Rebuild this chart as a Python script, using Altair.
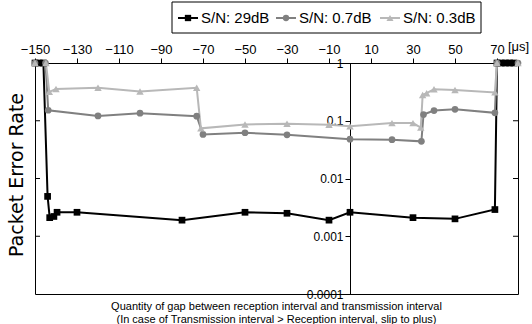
import altair as alt
import pandas as pd

series = ["S/N: 29dB", "S/N: 0.7dB", "S/N: 0.3dB"]
colors = ["#000000", "#808080", "#b8b8b8"]
shapes = ["square", "circle", "triangle-up"]

gap_29 = [-150, -148, -146, -144, -143, -141, -139.5, -130, -80, -50, -30, -10, 0, 30, 50, 69, 70, 72, 74, 76, 78]
per_29 = [1, 1, 1, 0.0049, 0.0021, 0.0022, 0.0026, 0.0026, 0.0019, 0.0026, 0.0025, 0.0019, 0.0026, 0.0021,
          0.0020, 0.0029, 1, 1, 1, 1, 1]

gap_07 = [-150, -145, -143.7, -120, -100, -73, -70, -50, -30, 0, 20, 34, 35, 40, 50, 69, 70, 80]
per_07 = [1, 1, 0.152, 0.121, 0.135, 0.12, 0.058, 0.062, 0.057, 0.048, 0.047, 0.044, 0.128, 0.15, 0.158,
          0.137, 1, 1]

gap_03 = [-150, -144.8, -143.2, -140, -120, -100, -73, -71, -50, -30, -10, 0, 20, 30, 33.7, 34.6, 36.5, 40,
          50, 69, 70, 80]
per_03 = [1, 1, 0.317, 0.354, 0.372, 0.32, 0.372, 0.074, 0.086, 0.089, 0.085, 0.080, 0.091, 0.091, 0.076,
          0.28, 0.30, 0.35, 0.34, 0.31, 1, 1]

x_ticks = [-150, -130, -110, -90, -70, -50, -30, -10, 10, 30, 50, 70]
y_ticks = [1, 0.1, 0.01, 0.001, 0.0001]
border_ticks = [0.1, 0.01, 0.001]

y_title = "Packet Error Rate"
x_title_1 = "Quantity of gap between reception interval and transmission interval"
x_title_2 = "(In case of Transmission interval > Reception interval, slip to plus)"
unit_text = "[μs]"

rows = []
for s, gs, ps in zip(series, [gap_29, gap_07, gap_03], [per_29, per_07, per_03]):
    for i, (g, p) in enumerate(zip(gs, ps)):
        rows.append({"series": s, "gap": g, "per": p, "idx": i})
df = pd.DataFrame(rows)

W, H = 483, 231
FONT = "Liberation Sans"

xenc = alt.X(
    "gap:Q",
    scale=alt.Scale(domain=[-150, 80], nice=False, zero=False),
    axis=alt.Axis(orient="top", values=x_ticks, format="d", tickSize=5, labelFontSize=13,
                  labelPadding=2, title=None, grid=False, domainColor="black", tickColor="black",
                  labelColor="black", labelFont=FONT, labelOverlap=False, labelFlush=False),
)
yenc = alt.Y(
    "per:Q",
    scale=alt.Scale(type="log", domain=[0.0001, 1], nice=False),
    axis=alt.Axis(orient="left", offset=-315, values=y_ticks, format="~g", tickSize=5, labelFontSize=12,
                  labelPadding=2, title=None, grid=False, domainColor="black", tickColor="black",
                  labelColor="black", labelFont=FONT, labelOverlap=False, labelFlush=False),
)

color = alt.Color("series:N", scale=alt.Scale(domain=series, range=colors), legend=None)

lines = alt.Chart(df).mark_line(strokeWidth=2).encode(
    x=xenc, y=yenc, color=color, order="idx:Q"
)

point_layers = []
for s, c, sh in zip(series, colors, shapes):
    point_layers.append(
        alt.Chart(df).transform_filter(alt.datum.series == s).mark_point(
            shape=sh, filled=True, color=c, size=45 if sh != "triangle-up" else 55, opacity=1
        ).encode(x=xenc, y=yenc)
    )

# legend (drawn as marks: box, line sample, marker, label)
LEG_Y = -45
leg_layers = [
    alt.Chart(pd.DataFrame({"k": [0]})).mark_rect(
        fill="white", stroke="black", strokeWidth=1
    ).encode(x=alt.value(137), x2=alt.value(446), y=alt.value(-61), y2=alt.value(-30))
]
leg_starts = [143, 241, 345]
for s, c, sh, x0 in zip(series, colors, shapes, leg_starts):
    one = pd.DataFrame({"t": [s]})
    leg_layers.append(alt.Chart(one).mark_rule(color=c, strokeWidth=2).encode(
        x=alt.value(x0), x2=alt.value(x0 + 20), y=alt.value(LEG_Y)))
    leg_layers.append(alt.Chart(one).mark_point(
        shape=sh, filled=True, color=c, size=40 if sh != "triangle-up" else 50, opacity=1
    ).encode(x=alt.value(x0 + 10), y=alt.value(LEG_Y)))
    leg_layers.append(alt.Chart(one).mark_text(
        fontSize=15, font=FONT, color="black", align="left", baseline="middle"
    ).encode(text="t:N", x=alt.value(x0 + 23), y=alt.value(LEG_Y)))

tick_df = pd.DataFrame({"per": border_ticks})
left_ticks = alt.Chart(tick_df).mark_rule(color="black", strokeWidth=1).encode(
    y=yenc, x=alt.value(0), x2=alt.value(5)
)
right_ticks = alt.Chart(tick_df).mark_rule(color="black", strokeWidth=1).encode(
    y=yenc, x=alt.value(W - 5), x2=alt.value(W)
)

ytitle = alt.Chart(pd.DataFrame({"t": [y_title]})).mark_text(
    angle=270, fontSize=19, font="DejaVu Sans", color="black", align="center", baseline="middle"
).encode(text="t:N", x=alt.value(-18), y=alt.value(112))

xt1 = alt.Chart(pd.DataFrame({"t": [x_title_1]})).mark_text(
    fontSize=11, font=FONT, color="black", align="center", baseline="middle"
).encode(text="t:N", x=alt.value(241.5), y=alt.value(244))
xt2 = alt.Chart(pd.DataFrame({"t": [x_title_2]})).mark_text(
    fontSize=11, font=FONT, color="black", align="center", baseline="middle"
).encode(text="t:N", x=alt.value(241.5), y=alt.value(257))
unit = alt.Chart(pd.DataFrame({"t": [unit_text]})).mark_text(
    fontSize=13, font=FONT, color="black", align="left", baseline="middle"
).encode(text="t:N", x=alt.value(473), y=alt.value(-16))

chart = alt.layer(
    left_ticks, right_ticks, lines, *point_layers, *leg_layers, ytitle, xt1, xt2, unit
).properties(
    width=W, height=H,
    autosize=alt.AutoSizeParams(type="none"),
    padding={"left": 35, "top": 63, "right": 14, "bottom": 30},
    background="white",
).configure_view(stroke="black", strokeWidth=1)

chart.save("out.html", embed_options={"renderer": "svg", "actions": False})
